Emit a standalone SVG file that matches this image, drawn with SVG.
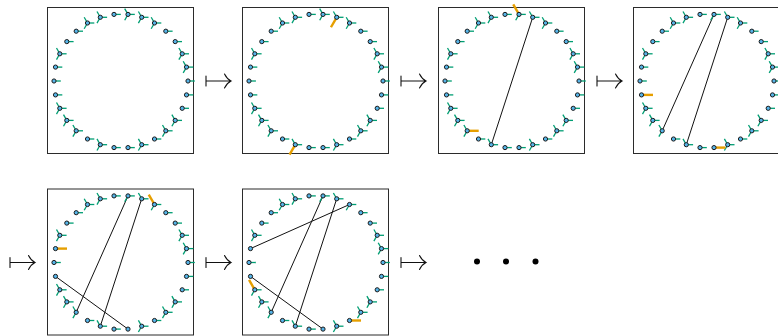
<svg xmlns="http://www.w3.org/2000/svg" width="778" height="336" viewBox="0 0 778 336">
<style>
.box{fill:none;stroke:#2b2b2b;stroke-width:1}
.leg{stroke:#009e73;stroke-width:1.3;stroke-linecap:butt}
.hl{stroke:#e69f00;stroke-width:2.4;stroke-linecap:butt}
.dot{fill:#56b4e9;stroke:#1a1a1a;stroke-width:1}
.chord{stroke:#111;stroke-width:1;fill:none}
.arr{stroke:#111;stroke-width:1.1;fill:none;stroke-linecap:round}
</style>
<defs>
<line id="r" class="leg" x1="0" y1="0" x2="6.8" y2="0"/>
<line id="u" class="leg" x1="0" y1="0" x2="-3.3" y2="-5.8"/>
<line id="d" class="leg" x1="0" y1="0" x2="-3.3" y2="5.8"/>
<line id="R" class="hl" x1="0" y1="0" x2="11.5" y2="0"/>
<line id="U" class="hl" x1="0" y1="0" x2="-5.75" y2="-9.96"/>
<line id="D" class="hl" x1="0" y1="0" x2="-5.75" y2="9.96"/>
<circle id="o" class="dot" r="2.1"/>
<g id="F"><use href="#r"/><use href="#u"/><use href="#d"/><use href="#o"/></g>
<g id="L"><use href="#r"/><use href="#o"/></g>
<g id="arrow"><path class="arr" d="M0,-5V5M0,0H25M18.5,-7Q21,-2 25,0Q21,2 18.5,7"/></g>
</defs>
<g id="boxes">
<rect class="box" x="47.5" y="7.5" width="146" height="146"/>
<rect class="box" x="242.5" y="7.5" width="146" height="146"/>
<rect class="box" x="438.5" y="7.5" width="146" height="146"/>
<rect class="box" x="633.5" y="7.5" width="146" height="146"/>
<rect class="box" x="47.5" y="189" width="146" height="146"/>
<rect class="box" x="242.5" y="189" width="146" height="146"/>
</g>
<g id="connectors">
<g id="c3" transform="translate(391,0)">
<line class="chord" x1="141.7" y1="17.3" x2="100.3" y2="144.7"/>
</g>
<g id="c4" transform="translate(586,0)">
<line class="chord" x1="141.7" y1="17.3" x2="100.3" y2="144.7"/>
<line class="chord" x1="128" y1="14.4" x2="76.2" y2="130.8"/>
</g>
<g id="c5" transform="translate(0,181.5)">
<line class="chord" x1="141.7" y1="17.3" x2="100.3" y2="144.7"/>
<line class="chord" x1="128" y1="14.4" x2="76.2" y2="130.8"/>
<line class="chord" x1="55.5" y1="94.9" x2="128" y2="147.6"/>
</g>
<g id="c6" transform="translate(195,181.5)">
<line class="chord" x1="141.7" y1="17.3" x2="100.3" y2="144.7"/>
<line class="chord" x1="128" y1="14.4" x2="76.2" y2="130.8"/>
<line class="chord" x1="55.5" y1="94.9" x2="128" y2="147.6"/>
<line class="chord" x1="55.5" y1="67.1" x2="154.5" y2="23"/>
</g>
</g>
<g id="p1">
<g id="p1n0" transform="translate(128,14.4)"><use href="#F"/></g>
<g id="p1n1" transform="translate(141.7,17.3)"><use href="#F"/></g>
<g id="p1n2" transform="translate(154.5,23)"><use href="#F"/></g>
<g id="p1n3" transform="translate(165.8,31.2)"><use href="#L"/></g>
<g id="p1n4" transform="translate(175.2,41.6)"><use href="#L"/></g>
<g id="p1n5" transform="translate(182.2,53.8)"><use href="#F"/></g>
<g id="p1n6" transform="translate(186.5,67.1)"><use href="#F"/></g>
<g id="p1n7" transform="translate(188,81)"><use href="#L"/></g>
<g id="p1n8" transform="translate(186.5,94.9)"><use href="#L"/></g>
<g id="p1n9" transform="translate(182.2,108.3)"><use href="#L"/></g>
<g id="p1n10" transform="translate(175.2,120.4)"><use href="#F"/></g>
<g id="p1n11" transform="translate(165.8,130.8)"><use href="#F"/></g>
<g id="p1n12" transform="translate(154.5,139)"><use href="#L"/></g>
<g id="p1n13" transform="translate(141.7,144.7)"><use href="#F"/></g>
<g id="p1n14" transform="translate(128,147.6)"><use href="#L"/></g>
<g id="p1n15" transform="translate(114,147.6)"><use href="#L"/></g>
<g id="p1n16" transform="translate(100.3,144.7)"><use href="#F"/></g>
<g id="p1n17" transform="translate(87.5,139)"><use href="#L"/></g>
<g id="p1n18" transform="translate(76.2,130.8)"><use href="#F"/></g>
<g id="p1n19" transform="translate(66.8,120.4)"><use href="#F"/></g>
<g id="p1n20" transform="translate(59.8,108.3)"><use href="#F"/></g>
<g id="p1n21" transform="translate(55.5,94.9)"><use href="#L"/></g>
<g id="p1n22" transform="translate(54,81)"><use href="#L"/></g>
<g id="p1n23" transform="translate(55.5,67.1)"><use href="#L"/></g>
<g id="p1n24" transform="translate(59.8,53.8)"><use href="#F"/></g>
<g id="p1n25" transform="translate(66.8,41.6)"><use href="#L"/></g>
<g id="p1n26" transform="translate(76.2,31.2)"><use href="#L"/></g>
<g id="p1n27" transform="translate(87.5,23)"><use href="#F"/></g>
<g id="p1n28" transform="translate(100.3,17.3)"><use href="#F"/></g>
<g id="p1n29" transform="translate(114,14.4)"><use href="#L"/></g>
</g>
<g id="p2" transform="translate(195,0)">
<g id="p2n0" transform="translate(128,14.4)"><use href="#F"/></g>
<g id="p2n1" transform="translate(141.7,17.3)"><use href="#r"/><use href="#u"/><use href="#D"/><use href="#o"/></g>
<g id="p2n2" transform="translate(154.5,23)"><use href="#F"/></g>
<g id="p2n3" transform="translate(165.8,31.2)"><use href="#L"/></g>
<g id="p2n4" transform="translate(175.2,41.6)"><use href="#L"/></g>
<g id="p2n5" transform="translate(182.2,53.8)"><use href="#F"/></g>
<g id="p2n6" transform="translate(186.5,67.1)"><use href="#F"/></g>
<g id="p2n7" transform="translate(188,81)"><use href="#L"/></g>
<g id="p2n8" transform="translate(186.5,94.9)"><use href="#L"/></g>
<g id="p2n9" transform="translate(182.2,108.3)"><use href="#L"/></g>
<g id="p2n10" transform="translate(175.2,120.4)"><use href="#F"/></g>
<g id="p2n11" transform="translate(165.8,130.8)"><use href="#F"/></g>
<g id="p2n12" transform="translate(154.5,139)"><use href="#L"/></g>
<g id="p2n13" transform="translate(141.7,144.7)"><use href="#F"/></g>
<g id="p2n14" transform="translate(128,147.6)"><use href="#L"/></g>
<g id="p2n15" transform="translate(114,147.6)"><use href="#L"/></g>
<g id="p2n16" transform="translate(100.3,144.7)"><use href="#r"/><use href="#u"/><use href="#D"/><use href="#o"/></g>
<g id="p2n17" transform="translate(87.5,139)"><use href="#L"/></g>
<g id="p2n18" transform="translate(76.2,130.8)"><use href="#F"/></g>
<g id="p2n19" transform="translate(66.8,120.4)"><use href="#F"/></g>
<g id="p2n20" transform="translate(59.8,108.3)"><use href="#F"/></g>
<g id="p2n21" transform="translate(55.5,94.9)"><use href="#L"/></g>
<g id="p2n22" transform="translate(54,81)"><use href="#L"/></g>
<g id="p2n23" transform="translate(55.5,67.1)"><use href="#L"/></g>
<g id="p2n24" transform="translate(59.8,53.8)"><use href="#F"/></g>
<g id="p2n25" transform="translate(66.8,41.6)"><use href="#L"/></g>
<g id="p2n26" transform="translate(76.2,31.2)"><use href="#L"/></g>
<g id="p2n27" transform="translate(87.5,23)"><use href="#F"/></g>
<g id="p2n28" transform="translate(100.3,17.3)"><use href="#F"/></g>
<g id="p2n29" transform="translate(114,14.4)"><use href="#L"/></g>
</g>
<g id="p3" transform="translate(391,0)">
<g id="p3n0" transform="translate(128,14.4)"><use href="#r"/><use href="#U"/><use href="#d"/><use href="#o"/></g>
<g id="p3n1" transform="translate(141.7,17.3)"><use href="#r"/><use href="#u"/><use href="#o"/></g>
<g id="p3n2" transform="translate(154.5,23)"><use href="#F"/></g>
<g id="p3n3" transform="translate(165.8,31.2)"><use href="#L"/></g>
<g id="p3n4" transform="translate(175.2,41.6)"><use href="#L"/></g>
<g id="p3n5" transform="translate(182.2,53.8)"><use href="#F"/></g>
<g id="p3n6" transform="translate(186.5,67.1)"><use href="#F"/></g>
<g id="p3n7" transform="translate(188,81)"><use href="#L"/></g>
<g id="p3n8" transform="translate(186.5,94.9)"><use href="#L"/></g>
<g id="p3n9" transform="translate(182.2,108.3)"><use href="#L"/></g>
<g id="p3n10" transform="translate(175.2,120.4)"><use href="#F"/></g>
<g id="p3n11" transform="translate(165.8,130.8)"><use href="#F"/></g>
<g id="p3n12" transform="translate(154.5,139)"><use href="#L"/></g>
<g id="p3n13" transform="translate(141.7,144.7)"><use href="#F"/></g>
<g id="p3n14" transform="translate(128,147.6)"><use href="#L"/></g>
<g id="p3n15" transform="translate(114,147.6)"><use href="#L"/></g>
<g id="p3n16" transform="translate(100.3,144.7)"><use href="#r"/><use href="#u"/><use href="#o"/></g>
<g id="p3n17" transform="translate(87.5,139)"><use href="#L"/></g>
<g id="p3n18" transform="translate(76.2,130.8)"><use href="#R"/><use href="#u"/><use href="#d"/><use href="#o"/></g>
<g id="p3n19" transform="translate(66.8,120.4)"><use href="#F"/></g>
<g id="p3n20" transform="translate(59.8,108.3)"><use href="#F"/></g>
<g id="p3n21" transform="translate(55.5,94.9)"><use href="#L"/></g>
<g id="p3n22" transform="translate(54,81)"><use href="#L"/></g>
<g id="p3n23" transform="translate(55.5,67.1)"><use href="#L"/></g>
<g id="p3n24" transform="translate(59.8,53.8)"><use href="#F"/></g>
<g id="p3n25" transform="translate(66.8,41.6)"><use href="#L"/></g>
<g id="p3n26" transform="translate(76.2,31.2)"><use href="#L"/></g>
<g id="p3n27" transform="translate(87.5,23)"><use href="#F"/></g>
<g id="p3n28" transform="translate(100.3,17.3)"><use href="#F"/></g>
<g id="p3n29" transform="translate(114,14.4)"><use href="#L"/></g>
</g>
<g id="p4" transform="translate(586,0)">
<g id="p4n0" transform="translate(128,14.4)"><use href="#r"/><use href="#d"/><use href="#o"/></g>
<g id="p4n1" transform="translate(141.7,17.3)"><use href="#r"/><use href="#u"/><use href="#o"/></g>
<g id="p4n2" transform="translate(154.5,23)"><use href="#F"/></g>
<g id="p4n3" transform="translate(165.8,31.2)"><use href="#L"/></g>
<g id="p4n4" transform="translate(175.2,41.6)"><use href="#L"/></g>
<g id="p4n5" transform="translate(182.2,53.8)"><use href="#F"/></g>
<g id="p4n6" transform="translate(186.5,67.1)"><use href="#F"/></g>
<g id="p4n7" transform="translate(188,81)"><use href="#L"/></g>
<g id="p4n8" transform="translate(186.5,94.9)"><use href="#L"/></g>
<g id="p4n9" transform="translate(182.2,108.3)"><use href="#L"/></g>
<g id="p4n10" transform="translate(175.2,120.4)"><use href="#F"/></g>
<g id="p4n11" transform="translate(165.8,130.8)"><use href="#F"/></g>
<g id="p4n12" transform="translate(154.5,139)"><use href="#L"/></g>
<g id="p4n13" transform="translate(141.7,144.7)"><use href="#F"/></g>
<g id="p4n14" transform="translate(128,147.6)"><use href="#R"/><use href="#o"/></g>
<g id="p4n15" transform="translate(114,147.6)"><use href="#L"/></g>
<g id="p4n16" transform="translate(100.3,144.7)"><use href="#r"/><use href="#u"/><use href="#o"/></g>
<g id="p4n17" transform="translate(87.5,139)"><use href="#L"/></g>
<g id="p4n18" transform="translate(76.2,130.8)"><use href="#u"/><use href="#d"/><use href="#o"/></g>
<g id="p4n19" transform="translate(66.8,120.4)"><use href="#F"/></g>
<g id="p4n20" transform="translate(59.8,108.3)"><use href="#F"/></g>
<g id="p4n21" transform="translate(55.5,94.9)"><use href="#R"/><use href="#o"/></g>
<g id="p4n22" transform="translate(54,81)"><use href="#L"/></g>
<g id="p4n23" transform="translate(55.5,67.1)"><use href="#L"/></g>
<g id="p4n24" transform="translate(59.8,53.8)"><use href="#F"/></g>
<g id="p4n25" transform="translate(66.8,41.6)"><use href="#L"/></g>
<g id="p4n26" transform="translate(76.2,31.2)"><use href="#L"/></g>
<g id="p4n27" transform="translate(87.5,23)"><use href="#F"/></g>
<g id="p4n28" transform="translate(100.3,17.3)"><use href="#F"/></g>
<g id="p4n29" transform="translate(114,14.4)"><use href="#L"/></g>
</g>
<g id="p5" transform="translate(0,181.5)">
<g id="p5n0" transform="translate(128,14.4)"><use href="#r"/><use href="#d"/><use href="#o"/></g>
<g id="p5n1" transform="translate(141.7,17.3)"><use href="#r"/><use href="#u"/><use href="#o"/></g>
<g id="p5n2" transform="translate(154.5,23)"><use href="#r"/><use href="#U"/><use href="#d"/><use href="#o"/></g>
<g id="p5n3" transform="translate(165.8,31.2)"><use href="#L"/></g>
<g id="p5n4" transform="translate(175.2,41.6)"><use href="#L"/></g>
<g id="p5n5" transform="translate(182.2,53.8)"><use href="#F"/></g>
<g id="p5n6" transform="translate(186.5,67.1)"><use href="#F"/></g>
<g id="p5n7" transform="translate(188,81)"><use href="#L"/></g>
<g id="p5n8" transform="translate(186.5,94.9)"><use href="#L"/></g>
<g id="p5n9" transform="translate(182.2,108.3)"><use href="#L"/></g>
<g id="p5n10" transform="translate(175.2,120.4)"><use href="#F"/></g>
<g id="p5n11" transform="translate(165.8,130.8)"><use href="#F"/></g>
<g id="p5n12" transform="translate(154.5,139)"><use href="#L"/></g>
<g id="p5n13" transform="translate(141.7,144.7)"><use href="#F"/></g>
<g id="p5n14" transform="translate(128,147.6)"><use href="#o"/></g>
<g id="p5n15" transform="translate(114,147.6)"><use href="#L"/></g>
<g id="p5n16" transform="translate(100.3,144.7)"><use href="#r"/><use href="#u"/><use href="#o"/></g>
<g id="p5n17" transform="translate(87.5,139)"><use href="#L"/></g>
<g id="p5n18" transform="translate(76.2,130.8)"><use href="#u"/><use href="#d"/><use href="#o"/></g>
<g id="p5n19" transform="translate(66.8,120.4)"><use href="#F"/></g>
<g id="p5n20" transform="translate(59.8,108.3)"><use href="#F"/></g>
<g id="p5n21" transform="translate(55.5,94.9)"><use href="#o"/></g>
<g id="p5n22" transform="translate(54,81)"><use href="#L"/></g>
<g id="p5n23" transform="translate(55.5,67.1)"><use href="#R"/><use href="#o"/></g>
<g id="p5n24" transform="translate(59.8,53.8)"><use href="#F"/></g>
<g id="p5n25" transform="translate(66.8,41.6)"><use href="#L"/></g>
<g id="p5n26" transform="translate(76.2,31.2)"><use href="#L"/></g>
<g id="p5n27" transform="translate(87.5,23)"><use href="#F"/></g>
<g id="p5n28" transform="translate(100.3,17.3)"><use href="#F"/></g>
<g id="p5n29" transform="translate(114,14.4)"><use href="#L"/></g>
</g>
<g id="p6" transform="translate(195,181.5)">
<g id="p6n0" transform="translate(128,14.4)"><use href="#r"/><use href="#d"/><use href="#o"/></g>
<g id="p6n1" transform="translate(141.7,17.3)"><use href="#r"/><use href="#u"/><use href="#o"/></g>
<g id="p6n2" transform="translate(154.5,23)"><use href="#r"/><use href="#d"/><use href="#o"/></g>
<g id="p6n3" transform="translate(165.8,31.2)"><use href="#L"/></g>
<g id="p6n4" transform="translate(175.2,41.6)"><use href="#L"/></g>
<g id="p6n5" transform="translate(182.2,53.8)"><use href="#F"/></g>
<g id="p6n6" transform="translate(186.5,67.1)"><use href="#F"/></g>
<g id="p6n7" transform="translate(188,81)"><use href="#L"/></g>
<g id="p6n8" transform="translate(186.5,94.9)"><use href="#L"/></g>
<g id="p6n9" transform="translate(182.2,108.3)"><use href="#L"/></g>
<g id="p6n10" transform="translate(175.2,120.4)"><use href="#F"/></g>
<g id="p6n11" transform="translate(165.8,130.8)"><use href="#F"/></g>
<g id="p6n12" transform="translate(154.5,139)"><use href="#R"/><use href="#o"/></g>
<g id="p6n13" transform="translate(141.7,144.7)"><use href="#F"/></g>
<g id="p6n14" transform="translate(128,147.6)"><use href="#o"/></g>
<g id="p6n15" transform="translate(114,147.6)"><use href="#L"/></g>
<g id="p6n16" transform="translate(100.3,144.7)"><use href="#r"/><use href="#u"/><use href="#o"/></g>
<g id="p6n17" transform="translate(87.5,139)"><use href="#L"/></g>
<g id="p6n18" transform="translate(76.2,130.8)"><use href="#u"/><use href="#d"/><use href="#o"/></g>
<g id="p6n19" transform="translate(66.8,120.4)"><use href="#F"/></g>
<g id="p6n20" transform="translate(59.8,108.3)"><use href="#r"/><use href="#U"/><use href="#d"/><use href="#o"/></g>
<g id="p6n21" transform="translate(55.5,94.9)"><use href="#o"/></g>
<g id="p6n22" transform="translate(54,81)"><use href="#L"/></g>
<g id="p6n23" transform="translate(55.5,67.1)"><use href="#o"/></g>
<g id="p6n24" transform="translate(59.8,53.8)"><use href="#F"/></g>
<g id="p6n25" transform="translate(66.8,41.6)"><use href="#L"/></g>
<g id="p6n26" transform="translate(76.2,31.2)"><use href="#L"/></g>
<g id="p6n27" transform="translate(87.5,23)"><use href="#F"/></g>
<g id="p6n28" transform="translate(100.3,17.3)"><use href="#F"/></g>
<g id="p6n29" transform="translate(114,14.4)"><use href="#L"/></g>
</g>
<g id="arrows">
<use href="#arrow" transform="translate(206,81)"/>
<use href="#arrow" transform="translate(401,81)"/>
<use href="#arrow" transform="translate(597,81)"/>
<use href="#arrow" transform="translate(10,262.5)"/>
<use href="#arrow" transform="translate(206,262.5)"/>
<use href="#arrow" transform="translate(401,262.5)"/>
</g>
<g id="ellipsis" fill="#000">
<circle cx="477" cy="261.5" r="3"/>
<circle cx="506" cy="261.5" r="3"/>
<circle cx="535.5" cy="261.5" r="3"/>
</g>
</svg>
